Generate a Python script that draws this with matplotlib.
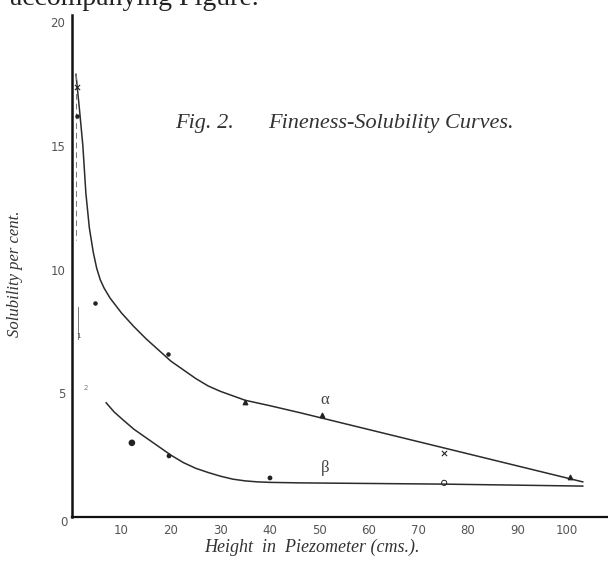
import matplotlib.pyplot as plt

# curve alpha (upper)
alpha_x = [0.8, 1.5, 2.2, 2.8, 3.5, 4.3, 5.0, 5.7, 6.5, 7.7, 10.0, 12.5, 15.0, 17.5, 20.0, 22.5, 25.0, 27.5, 30.0,
           32.5, 35.0, 40.0, 46.0, 103.2]
alpha_y = [17.9, 16.5, 15.0, 13.1, 11.7, 10.7, 10.05, 9.6, 9.25, 8.85, 8.25, 7.7, 7.2, 6.75, 6.3, 5.95, 5.6, 5.3, 5.08,
           4.9, 4.72, 4.5, 4.22, 1.42]

# curve beta (lower)
beta_x = [6.9, 8.5, 10.3, 12.5, 15.0, 17.5, 20.0, 22.5, 25.0, 27.5, 30.0, 32.5, 35.0, 37.5, 40.0, 46.0, 75.0, 103.2]
beta_y = [4.62, 4.25, 3.93, 3.55, 3.2, 2.85, 2.5, 2.2, 1.97, 1.8, 1.65, 1.53, 1.46, 1.42, 1.4, 1.38, 1.33, 1.25]

# observed points
alpha_dot_x = [1.0, 4.7, 19.4]
alpha_dot_y = [16.2, 8.66, 6.6]
alpha_cross_x = [1.0, 75.2]
alpha_cross_y = [17.4, 2.6]
alpha_tri_x = [35.0, 50.5, 100.6]
alpha_tri_y = [4.66, 4.13, 1.6]
beta_dot_x = [12.1, 19.6, 40.0]
beta_dot_y = [3.0, 2.47, 1.58]
beta_circ_x = [75.2]
beta_circ_y = [1.38]

x_ticks = [10, 20, 30, 40, 50, 60, 70, 80, 90, 100]
y_ticks = [5, 10, 15, 20]

serif = 'Liberation Serif'
ink = '#2b2b2b'

fig = plt.figure(figsize=(6.08, 5.62), dpi=100)
ax = fig.add_axes([72 / 608, 45 / 562, 536 / 608, 502 / 562])
ax.set_xlim(0, 108.3)
ax.set_ylim(0, 20.3)

for s in ['top', 'right']:
    ax.spines[s].set_visible(False)
ax.spines['left'].set_linewidth(1.8)
ax.spines['bottom'].set_linewidth(1.6)
ax.spines['left'].set_color('#111')
ax.spines['bottom'].set_color('#111')

ax.set_xticks(x_ticks)
ax.set_yticks(y_ticks)
ax.tick_params(length=0, labelsize=8.5, labelcolor='#555', pad=5)
fig.text(64 / 608, 1 - 522 / 562, '0', fontsize=8.5, color='#555', ha='center', va='center')

# fitted curves
ax.plot(alpha_x, alpha_y, color=ink, lw=1.1)
ax.plot(beta_x, beta_y, color=ink, lw=1.1)

# faint guide lines near the axis
ax.plot([0.8, 0.8], [17.9, 11.2], color='#777', lw=0.7, ls=(0, (6, 4)))
ax.plot([1.3, 1.3], [8.5, 7.2], color='#777', lw=0.7)

# observations
ax.scatter(alpha_dot_x, alpha_dot_y, s=5, color='#222', zorder=3)
ax.scatter(alpha_cross_x, alpha_cross_y, s=14, marker='x', color='#222', lw=0.8, zorder=3)
ax.scatter(alpha_tri_x, alpha_tri_y, s=10, marker='^', color='#222', zorder=3)
ax.scatter(beta_dot_x, beta_dot_y, s=[14, 6, 6], color='#222', zorder=3)
ax.scatter(beta_circ_x, beta_circ_y, s=14, marker='o', facecolor='none', edgecolor='#222', lw=0.7, zorder=3)
ax.text(1.4, 7.3, '1', fontsize=5, color='#555', ha='center', va='center')
ax.text(2.8, 5.2, '2', fontsize=5, color='#777', ha='center', va='center')

# curve labels
ax.text(51.1, 4.75, 'α', family=serif, fontsize=12, color='#444', ha='center', va='center')
ax.text(51.1, 2.0, 'β', family=serif, fontsize=12, color='#444', ha='center', va='center')

# title and axis labels
fig.text(234 / 608, 1 - 128 / 562, 'Fig. 2.', family=serif, style='italic', fontsize=16, color='#333',
         ha='right', va='baseline')
fig.text(268 / 608, 1 - 128 / 562, 'Fineness-Solubility Curves.', family=serif, style='italic', fontsize=16,
         color='#333', va='baseline')
fig.text(15 / 608, 1 - 274 / 562, 'Solubility per cent.', family=serif, style='italic', fontsize=12,
         color='#333', rotation=90, ha='center', va='center')
fig.text(312 / 608, 1 - 552 / 562, 'Height  in  Piezometer (cms.).', family=serif, style='italic', fontsize=13,
         color='#333', ha='center', va='baseline')

# page text cut off at the top
fig.text(10 / 608, 1 - 5 / 562, 'accompanying Figure.', family=serif, fontsize=20, color='#222', va='baseline')

fig.savefig('out.png', dpi=100)
